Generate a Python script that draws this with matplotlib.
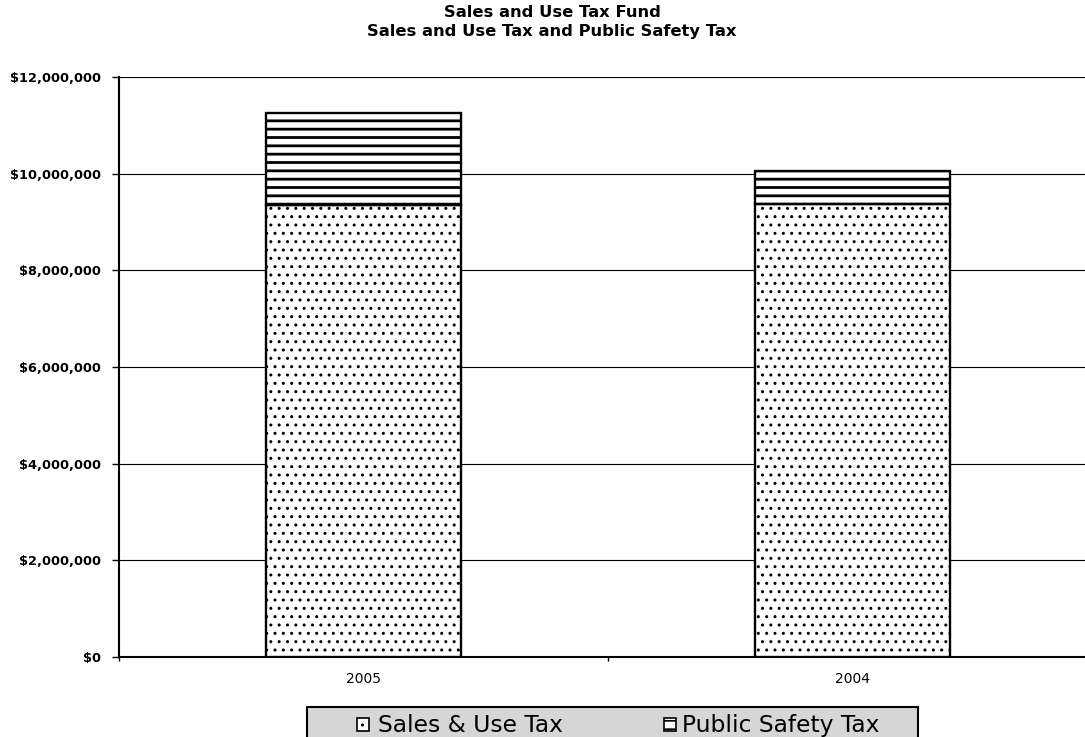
import matplotlib
matplotlib.use("Agg")
import matplotlib.pyplot as plt
from matplotlib.patches import Rectangle
from matplotlib.ticker import FuncFormatter

# Fiscal years and the two revenue components (dollars)
years = ["2005", "2004"]
sales_use_tax = [9.35e6, 9.38e6]
public_safety_tax = [1.91e6, 0.67e6]
series_names = ["Sales & Use Tax", "Public Safety Tax"]
title_lines = ["Sales and Use Tax Fund", "Sales and Use Tax and Public Safety Tax"]
y_ticks = [0, 2e6, 4e6, 6e6, 8e6, 10e6, 12e6]

W, H = 1085, 737
plt.rcParams['font.family'] = ['DejaVu Sans']
fig = plt.figure(figsize=(W / 100, H / 100), dpi=100)


def fx(px):
    return px / W


def fy(py):
    return 1 - py / H


ax = fig.add_axes([fx(119), fy(657), fx(1097) - fx(119), fy(77) - fy(657)])
positions = [i + 0.5 for i in range(len(years))]

with plt.rc_context({'hatch.linewidth': 1.0, 'hatch.color': 'black'}):
    bars_sales = ax.bar(positions, sales_use_tax, width=0.4, color='white',
                        edgecolor='black', linewidth=1.7, hatch='..', zorder=3)
with plt.rc_context({'hatch.linewidth': 2.0, 'hatch.color': 'black'}):
    bars_public = ax.bar(positions, public_safety_tax, bottom=sales_use_tax,
                         width=0.4, color='white', edgecolor='black',
                         linewidth=1.7, hatch='--', zorder=3)
for p in bars_public:
    if hasattr(p, 'set_hatch_linewidth'):
        p.set_hatch_linewidth(2.0)
for p in bars_sales:
    if hasattr(p, 'set_hatch_linewidth'):
        p.set_hatch_linewidth(1.0)

ax.set_xlim(0, len(years))
ax.set_ylim(0, 12e6)

# category boundaries carry the tick marks, labels sit at bar centres
ax.set_xticks(range(len(years) + 1))
ax.set_xticklabels([])
ax.set_xticks(positions, minor=True)
ax.set_xticklabels(years, minor=True)
ax.tick_params(axis='x', which='major', direction='out', length=3, width=1)
ax.tick_params(axis='x', which='minor', length=0, pad=11, labelsize=10)

ax.set_yticks(y_ticks)
ax.yaxis.set_major_formatter(FuncFormatter(lambda v, _: "${:,.0f}".format(v)))
ax.tick_params(axis='y', direction='out', length=5, width=1, pad=8, labelsize=9.3)
for lbl in ax.get_yticklabels():
    lbl.set_fontweight('bold')

ax.yaxis.grid(True, color='black', linewidth=0.8)
ax.set_axisbelow(True)
for side in ('top', 'right'):
    ax.spines[side].set_visible(False)
for side in ('left', 'bottom'):
    ax.spines[side].set_color('black')
    ax.spines[side].set_linewidth(1.5)

# Two-line title
fig.text(fx(552), fy(17), title_lines[0], ha='center', va='baseline',
         fontsize=11.8, fontweight='bold')
fig.text(fx(552), fy(36), title_lines[1], ha='center', va='baseline',
         fontsize=11.8, fontweight='bold')

# Legend strip below the axes
fig.add_artist(Rectangle((fx(307), fy(745)), fx(918) - fx(307), fy(707) - fy(745),
                         transform=fig.transFigure, facecolor='#d6d6d6',
                         edgecolor='black', linewidth=1.5))
legend_items = [(357, '..', 1.0, 378), (664, '--', 1.2, 682)]
for name, (mx, hatch, hlw, tx) in zip(series_names, legend_items):
    with plt.rc_context({'hatch.linewidth': hlw, 'hatch.color': 'black'}):
        key = Rectangle((fx(mx), fy(731)), fx(mx + 12) - fx(mx), fy(718) - fy(731),
                        transform=fig.transFigure, facecolor='white',
                        edgecolor='black', linewidth=1.2, hatch=hatch)
    if hasattr(key, 'set_hatch_linewidth'):
        key.set_hatch_linewidth(hlw)
    fig.add_artist(key)
    fig.text(fx(tx), fy(732), name, ha='left', va='baseline', fontsize=16.8)

fig.savefig("out.png", dpi=100)
